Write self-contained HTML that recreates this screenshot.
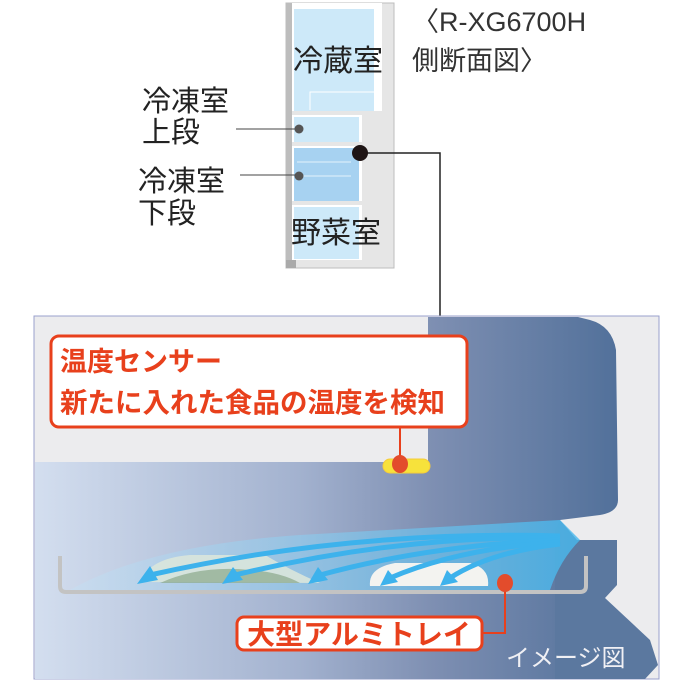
<!DOCTYPE html>
<html><head><meta charset="utf-8"><style>
html,body{margin:0;padding:0;background:#fff;width:679px;height:680px;overflow:hidden}
svg{display:block}
text{font-family:"Liberation Sans","Noto Sans CJK JP",sans-serif}
</style></head><body>
<svg width="679" height="680" viewBox="0 0 679 680" xmlns="http://www.w3.org/2000/svg">
<defs>
<linearGradient id="lg" x1="35" x2="620" y1="0" y2="0" gradientUnits="userSpaceOnUse">
<stop offset="0" stop-color="#d3deef"/><stop offset="0.45" stop-color="#a3b2cf"/><stop offset="0.68" stop-color="#7e8fb2"/><stop offset="1" stop-color="#51709a"/>
</linearGradient>
<linearGradient id="fan" x1="0" x2="1" y1="0" y2="0">
<stop offset="0" stop-color="#bfe6fa" stop-opacity="0.3"/><stop offset="1" stop-color="#46b8ee" stop-opacity="0.95"/>
</linearGradient>
</defs>
<!-- fridge -->
<rect x="286" y="3" width="108" height="265" fill="#e6e6e6" stroke="#bdbdbd"/>
<rect x="286" y="3" width="6" height="265" fill="#bdbdbd"/>
<rect x="286" y="260" width="10" height="8" fill="#aaa"/>
<rect x="292" y="3" width="90" height="108" fill="#fff"/>
<rect x="294" y="9" width="80" height="102" fill="#cde9f9"/>
<path d="M310 110 V92 H374" fill="none" stroke="#fff"/>
<rect x="292" y="115" width="70" height="27" fill="#fff"/>
<rect x="294" y="117" width="65" height="25" fill="#cde9f9"/>
<rect x="292" y="146" width="70" height="55" fill="#fff"/>
<rect x="294" y="148" width="65" height="53" fill="#a7d2f1"/>
<path d="M297 162 H351 M297 176 H351" stroke="#e3f2fc"/>
<rect x="292" y="205" width="70" height="55" fill="#fff"/>
<rect x="294" y="207" width="65" height="52" fill="#cde9f9"/>
<text x="338" y="71" font-size="30" fill="#222" text-anchor="middle">冷蔵室</text>
<text x="336" y="243" font-size="30" fill="#222" text-anchor="middle">野菜室</text>
<line x1="236" y1="129" x2="299" y2="129" stroke="#444"/>
<circle cx="299" cy="129" r="4.5" fill="#555"/>
<line x1="240" y1="175" x2="299" y2="175" stroke="#444"/>
<circle cx="299" cy="176" r="4.5" fill="#555"/>
<text x="142" y="111" font-size="29" fill="#222">冷凍室</text>
<text x="142" y="142" font-size="29" fill="#222">上段</text>
<text x="138" y="191" font-size="29" fill="#222">冷凍室</text>
<text x="138" y="223" font-size="29" fill="#222">下段</text>
<text x="412" y="31" font-size="27" fill="#333">〈R-XG6700H</text>
<text x="412" y="70" font-size="27" fill="#333">側断面図〉</text>
<path d="M360 153 H440 V318" fill="none" stroke="#222" stroke-width="1.5"/>
<circle cx="360" cy="153" r="8" fill="#1e1414"/>
<!-- lower panel -->
<rect x="34" y="316" width="625" height="363" fill="#ececee" stroke="#9aa0cc"/>
<path d="M35 462 H428 V317 H578 L590 320 Q612 326 616 350 L618 500 Q618 512 600 515 L560 520 L560 679 H35 Z" fill="url(#lg)"/>
<path d="M560 520 L577 538 L617 538 L617 585 L605 598 L650 640 L658 665 L645 679 L555 679 L555 530 Z" fill="#5b789f"/>
<path d="M560 520 H658 V540 H577 Z" fill="#ececee"/>
<!-- air fan -->
<path d="M70 590 Q150 545 300 535 L560 520 L580 540 Q560 560 550 590 Z" fill="url(#fan)" opacity="0.85"/>
<!-- food -->
<path d="M140 582 Q150 558 190 555 L265 555 Q290 570 320 583 Z" fill="#d9e5dc" opacity="0.9"/>
<path d="M160 583 Q200 565 250 570 Q280 572 300 583 Z" fill="#8aa88a" opacity="0.7"/>
<path d="M370 586 Q368 568 395 563 L470 563 Q490 568 488 586 Z" fill="#f3f3f0"/>
<!-- arrows -->
<g fill="none" stroke="#3db2ec" stroke-width="5">
<path d="M560 536 Q350 530 150 575"/>
<path d="M560 538 Q400 535 235 575"/>
<path d="M560 540 Q430 545 320 575"/>
<path d="M560 542 Q460 548 390 578"/>
<path d="M560 544 Q490 552 450 578"/>
</g>
<g fill="#3db2ec">
<polygon points="137,584 150,566 158,580"/>
<polygon points="222,584 233,567 243,580"/>
<polygon points="308,584 318,567 328,580"/>
<polygon points="380,586 388,570 398,582"/>
<polygon points="440,586 447,570 458,582"/>
</g>
<!-- tray -->
<path d="M60 556 V586 Q60 592 66 592 H580 Q586 592 586 586 V556" fill="none" stroke="#c3c3c3" stroke-width="4"/>
<!-- sensor -->
<rect x="383" y="459" width="47" height="14" rx="7" fill="#f7e23b" stroke="#f6cc3a"/>
<line x1="400" y1="428" x2="400" y2="465" stroke="#e8401c" stroke-width="2"/>
<ellipse cx="400" cy="464" rx="8" ry="9" fill="#e34c2c"/>
<!-- callout -->
<rect x="51" y="336" width="416" height="91" rx="8" fill="#fff" stroke="#e8401c" stroke-width="3"/>
<text x="60" y="371" font-size="27" font-weight="bold" fill="#e8401c">温度センサー</text>
<text x="60" y="412" font-size="27.5" font-weight="bold" fill="#e8401c">新たに入れた食品の温度を検知</text>
<!-- tray label -->
<path d="M505 583 V633 H480" fill="none" stroke="#e8401c" stroke-width="2"/>
<ellipse cx="505" cy="583" rx="8" ry="9" fill="#e34c2c"/>
<rect x="237" y="617" width="245" height="33" rx="7" fill="#fff" stroke="#e8401c" stroke-width="3"/>
<text x="359" y="644" font-size="28" font-weight="bold" fill="#e8401c" text-anchor="middle">大型アルミトレイ</text>
<text x="506" y="666" font-size="24" fill="#f0f0f4">イメージ図</text>
</svg>
</body></html>
